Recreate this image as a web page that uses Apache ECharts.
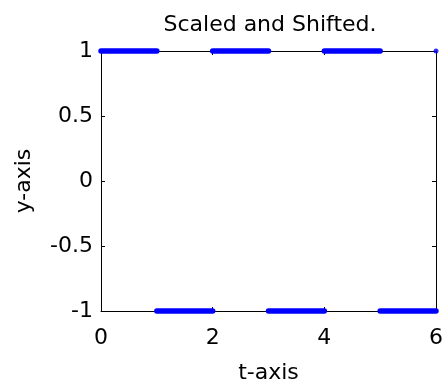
<!DOCTYPE html>
<html>
<head>
<meta charset="utf-8">
<script src="https://cdn.jsdelivr.net/npm/echarts@6/dist/echarts.min.js"></script>
<style>
html,body{margin:0;padding:0;background:#fff;}
#c{width:443px;height:386px;}
</style>
</head>
<body>
<div id="c"></div>
<script>
// Square wave: level held between consecutive break points
const tBreaks = [0, 1, 2, 3, 4, 5, 6];
const levels = [1, -1, 1, -1, 1, -1];
const finalPoint = [6, 1];
const xTickValues = [0, 2, 4, 6];
const yTickValues = [-1, -0.5, 0, 0.5, 1];

const segData = [];
for (let i = 0; i < levels.length; i++) {
  segData.push([tBreaks[i], levels[i]]);
  segData.push([tBreaks[i + 1], levels[i]]);
  segData.push(null);
}

const FONT = 'DejaVu Sans';
const axisLine = { show: true, onZero: false, lineStyle: { color: '#000', width: 1 } };
const tick = { show: true, inside: true, length: 4, lineStyle: { color: '#000', width: 1 } };

const chart = echarts.init(document.getElementById('c'), null, { renderer: 'canvas' });
chart.setOption({
  animation: false,
  backgroundColor: '#fff',
  title: {
    text: 'Scaled and Shifted.',
    left: 265, top: 9, textAlign: 'center',
    textStyle: { fontFamily: FONT, fontSize: 22, fontWeight: 'normal', color: '#000' }
  },
  grid: { left: 101, right: 7, top: 51, bottom: 75, containLabel: false, outerBoundsMode: 'none' },
  xAxis: [
    {
      type: 'value', min: xTickValues[0], max: xTickValues[xTickValues.length - 1], interval: 2,
      position: 'bottom',
      name: 't-axis', nameLocation: 'middle', nameGap: 51,
      nameTextStyle: { fontFamily: FONT, fontSize: 22, color: '#000' },
      axisLine: axisLine, axisTick: tick,
      axisLabel: { margin: 16, fontFamily: FONT, fontSize: 22, color: '#000' },
      splitLine: { show: false }
    },
    {
      type: 'value', min: xTickValues[0], max: xTickValues[xTickValues.length - 1], interval: 2,
      position: 'top',
      axisLine: axisLine, axisTick: tick,
      axisLabel: { show: false }, splitLine: { show: false }
    }
  ],
  yAxis: [
    {
      type: 'value', min: yTickValues[0], max: yTickValues[yTickValues.length - 1], interval: 0.5,
      position: 'left',
      name: 'y-axis', nameLocation: 'middle', nameGap: 66, nameRotate: 90,
      nameTextStyle: { fontFamily: FONT, fontSize: 22, color: '#000' },
      axisLine: axisLine, axisTick: tick,
      axisLabel: { margin: 8, fontFamily: FONT, fontSize: 22, color: '#000' },
      splitLine: { show: false }
    },
    {
      type: 'value', min: yTickValues[0], max: yTickValues[yTickValues.length - 1], interval: 0.5,
      position: 'right',
      axisLine: axisLine, axisTick: tick,
      axisLabel: { show: false }, splitLine: { show: false }
    }
  ],
  series: [
    {
      type: 'line',
      data: segData,
      connectNulls: false,
      showSymbol: false,
      clip: false,
      lineStyle: { color: '#0000ff', width: 5.5, cap: 'round' },
      z: 5
    },
    {
      type: 'scatter',
      data: [finalPoint],
      symbol: 'circle', symbolSize: 5,
      clip: false,
      itemStyle: { color: '#0000ff' },
      z: 6
    }
  ]
});
</script>
</body>
</html>
